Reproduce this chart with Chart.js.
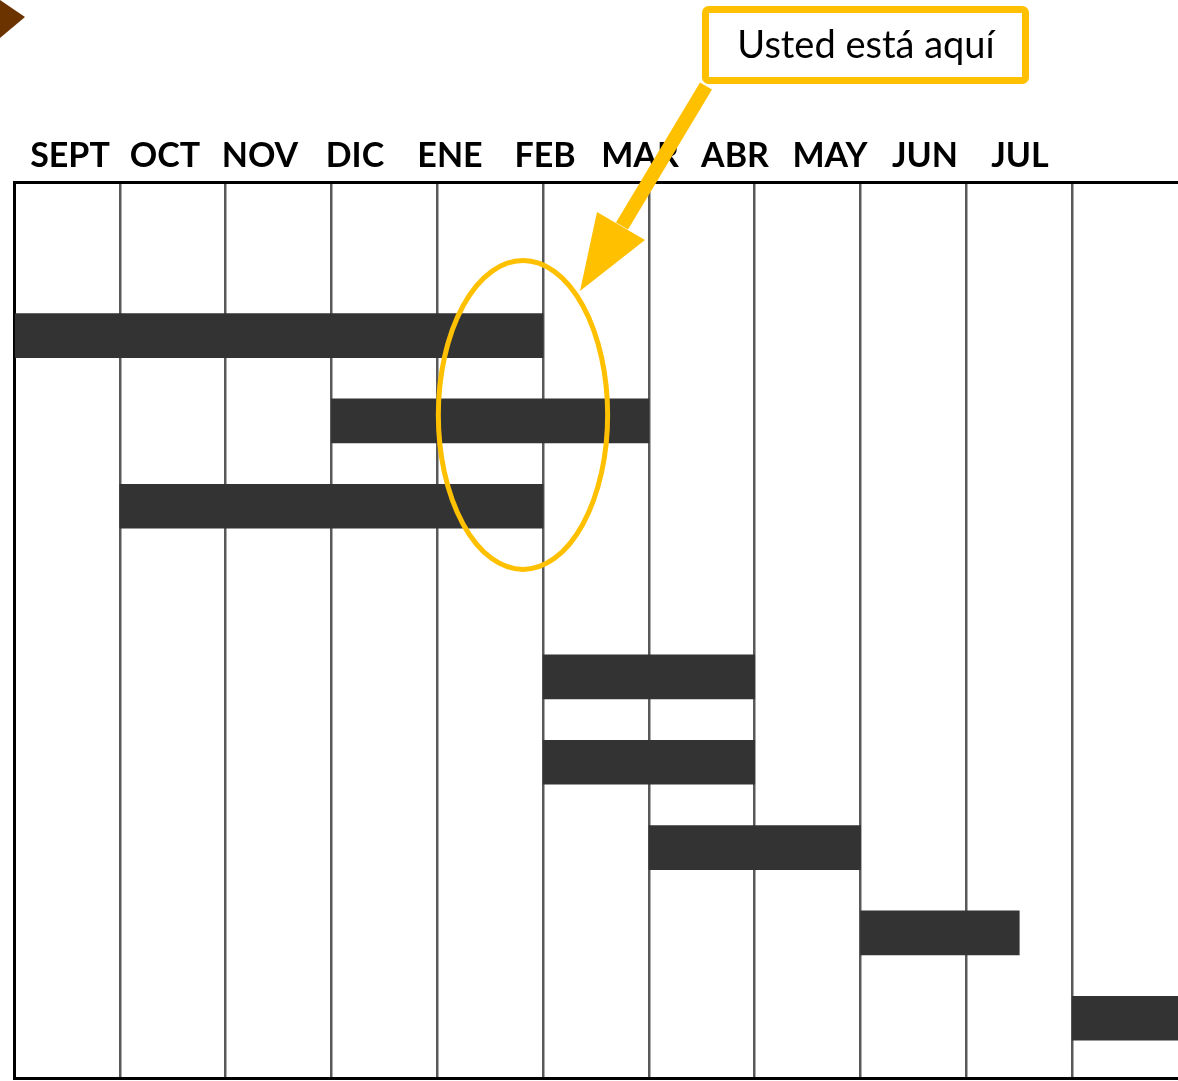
<!DOCTYPE html>
<html>
<head>
<meta charset="utf-8">
<script src="https://cdn.jsdelivr.net/npm/chart.js@4"></script>
<style>
  html, body { margin: 0; padding: 0; background: #fff; }
  canvas { display: block; }
</style>
</head>
<body>
<canvas id="gantt" width="1178" height="1081"></canvas>
<script>
// month header labels
const months = ["SEPT", "OCT", "NOV", "DIC", "ENE", "FEB", "MAR", "ABR", "MAY", "JUN", "JUL"];

// task rows (row 4 is left empty in the picture)
const taskRows   = [1, 2, 3, 5, 6, 7, 8, 9];
// start / end of each task, in months from the start of SEPT
const taskStart  = [0, 3, 1, 5, 5, 6, 8, 10];
const taskEnd    = [5, 6, 5, 7, 7, 8, 9.5, 11];

const yellow = "#FFC000";

const overlay = {
    id: "overlay",
    afterDraw(chart) {
        const c = chart.ctx;
        const x = chart.scales.x, y = chart.scales.y;

        // brown marker in the top-left corner
        c.save();
        c.fillStyle = "#6B3300";
        c.beginPath();
        c.moveTo(0, 0); c.lineTo(25, 17); c.lineTo(0, 38);
        c.closePath(); c.fill();

        // ellipse round the FEB column
        const cx = x.getPixelForValue(4.81), cy = y.getPixelForValue(1.93);
        const rx = x.getPixelForValue(4.81 + 0.8) - cx;
        const ry = y.getPixelForValue(1.93 + 1.81) - cy;
        c.strokeStyle = yellow;
        c.lineWidth = 5;
        c.beginPath();
        c.ellipse(cx, cy, rx, ry, 0, 0, Math.PI * 2);
        c.stroke();

        // arrow from the box to the ellipse
        c.lineWidth = 14;
        c.beginPath();
        c.moveTo(706, 86); c.lineTo(622, 226);
        c.stroke();
        c.fillStyle = yellow;
        c.beginPath();
        c.moveTo(580, 291); c.lineTo(597, 212); c.lineTo(645, 240);
        c.closePath(); c.fill();

        // "you are here" box
        c.fillStyle = "#fff";
        c.lineWidth = 7;
        c.beginPath();
        c.roundRect(705.5, 9.5, 320, 71, 3);
        c.fill(); c.stroke();
        c.fillStyle = "#000";
        c.font = "38px Lato";
        c.textAlign = "center";
        c.textBaseline = "middle";
        c.fillText("Usted está aquí", 866, 46);
        c.restore();
    }
};

new Chart(document.getElementById("gantt"), {
    type: "bar",
    data: {
        datasets: [{
            data: taskRows.map((r, i) => ({ x: [taskStart[i], taskEnd[i]], y: r })),
            backgroundColor: "#333333",
            barThickness: 44,
            borderSkipped: false
        }]
    },
    options: {
        indexAxis: "y",
        responsive: false,
        devicePixelRatio: 1,
        animation: false,
        layout: { padding: 0 },
        plugins: { legend: { display: false }, tooltip: { enabled: false } },
        scales: {
            x: {
                type: "linear",
                position: "bottom",
                min: 0,
                max: 11,
                z: 1,
                ticks: { display: false, stepSize: 1 },
                grid: {
                    color: ctx => (ctx.tick && ctx.tick.value > 0 && ctx.tick.value < 11) ? "rgba(0,0,0,0.65)" : "rgba(0,0,0,0)",
                    lineWidth: 2.5,
                    drawTicks: false
                },
                border: { display: true, color: "#000", width: 3 },
                afterFit(scale) { scale.height = 3; }
            },
            x2: {
                type: "linear",
                position: "top",
                min: -0.589,
                max: 11.663,
                grid: { display: false, drawTicks: false },
                border: { display: true, color: "#000", width: 3 },
                afterBuildTicks(scale) { scale.ticks = months.map((m, i) => ({ value: i })); },
                ticks: {
                    autoSkip: false,
                    maxRotation: 0,
                    padding: 6,
                    color: "#000",
                    font: { family: "Lato", size: 34, weight: "bold" },
                    callback: v => months[v]
                },
                afterFit(scale) { scale.height = 182; }
            },
            y: {
                type: "linear",
                reverse: true,
                offset: false,
                min: -0.8,
                max: 9.7,
                ticks: { display: false },
                grid: { display: false, drawTicks: false },
                border: { display: true, color: "#000", width: 3 },
                afterFit(scale) { scale.width = 14; }
            }
        }
    },
    plugins: [overlay]
});
</script>
</body>
</html>
